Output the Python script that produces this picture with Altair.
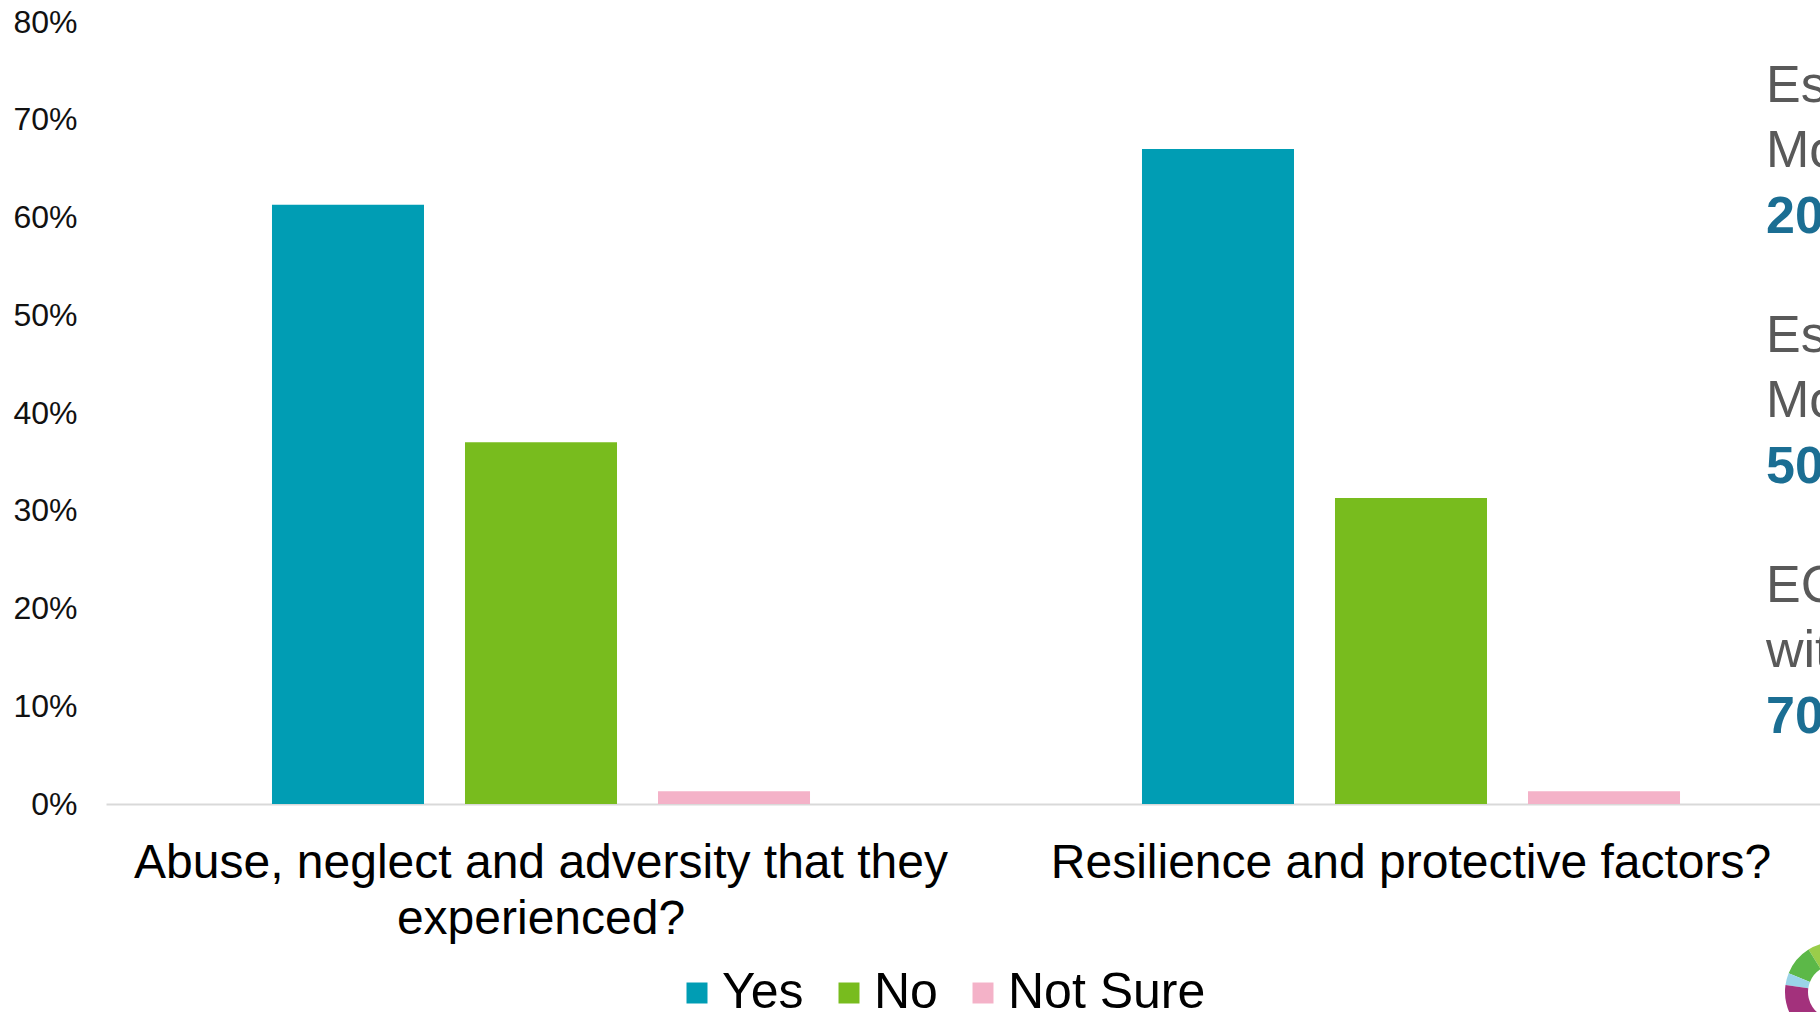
import math
import altair as alt
import pandas as pd

# ---- data ----
categories = ["Abuse, neglect and adversity that they\nexperienced?", "Resilience and protective factors?"]
responses = ["Yes", "No", "Not Sure"]
yes_vals = [0.613, 0.670]
no_vals = [0.370, 0.313]
notsure_vals = [0.013, 0.013]
colors = ["#009db4", "#78bc1e", "#f4b2c8"]

side_gray = [["Es", "Mo"], ["Es", "Mo"], ["EC", "wit"]]
side_blue = ["20%", "50%", "70%"]

# small partial logo in the bottom-right corner (segments, degrees)
logo_start = [328, 292, 278, 195]
logo_end = [348, 328, 292, 278]
logo_colors = ["#9acd4a", "#5cb848", "#9ad3e8", "#a3317c"]

rows = []
for i, c in enumerate(categories):
    rows.append({"category": c, "response": "Yes", "value": yes_vals[i]})
    rows.append({"category": c, "response": "No", "value": no_vals[i]})
    rows.append({"category": c, "response": "Not Sure", "value": notsure_vals[i]})
df = pd.DataFrame(rows)

FONT = "Liberation Sans, Arial, sans-serif"

bars = alt.Chart(df).mark_bar().encode(
    x=alt.X(
        "category:N",
        sort=categories,
        scale=alt.Scale(range=[0, 1740], paddingInner=0, paddingOuter=0),
        axis=alt.Axis(
            title=None, labelAngle=0,
            labelExpr="split(datum.label, '\\n')",
            labelFontSize=48, labelLineHeight=56, labelPadding=35,
            labelLimit=0, ticks=False, tickSize=0,
            domainColor="#d9d9d9", domainWidth=2, labelColor="#000000",
            labelFont=FONT,
        ),
    ),
    xOffset=alt.XOffset("response:N", sort=responses,
                        scale=alt.Scale(paddingInner=0.2124, paddingOuter=0.86)),
    y=alt.Y(
        "value:Q",
        scale=alt.Scale(domain=[0, 0.8]),
        axis=alt.Axis(
            format=".0%", values=[0, 0.1, 0.2, 0.3, 0.4, 0.5, 0.6, 0.7, 0.8],
            title=None, grid=False, domain=False, ticks=False, tickSize=0,
            labelFontSize=32, labelPadding=29, labelColor="#111111", labelFont=FONT,
        ),
    ),
    color=alt.Color(
        "response:N", sort=responses,
        scale=alt.Scale(domain=responses, range=colors),
        legend=alt.Legend(
            title=None, orient="none", direction="horizontal",
            legendX=566, legendY=946,
            symbolType="square", symbolSize=441, symbolStrokeWidth=0,
            labelFontSize=50, labelFont=FONT, labelColor="#000000",
            labelOffset=0, columnPadding=20, padding=0, labelLimit=0,
        ),
    ),
)

layers = [bars]
# right side annotation text (cut off at the edge)
gray_baselines = [[102, 167], [352, 417], [602, 667]]
blue_baselines = [233, 483, 733]
for b in range(3):
    for j, line in enumerate(side_gray[b]):
        layers.append(
            alt.Chart(pd.DataFrame({"t": [line]})).mark_text(
                align="left", baseline="alphabetic", fontSize=52, font=FONT,
                color="#595959",
            ).encode(text="t:N", x=alt.value(1660), y=alt.value(gray_baselines[b][j] - 22))
        )
    layers.append(
        alt.Chart(pd.DataFrame({"t": [side_blue[b]]})).mark_text(
            align="left", baseline="alphabetic", fontSize=52, font=FONT,
            fontWeight="bold", color="#1b6e93",
        ).encode(text="t:N", x=alt.value(1660), y=alt.value(blue_baselines[b] - 22))
    )

logo_df = pd.DataFrame({
    "a": [math.radians(v) for v in logo_start],
    "b": [math.radians(v) for v in logo_end],
    "c": logo_colors,
})
logo = alt.Chart(logo_df).mark_arc(radius=50, radius2=27).encode(
    theta=alt.Theta("a:Q", scale=None),
    theta2="b:Q",
    color=alt.Color("c:N", scale=None),
    x=alt.value(1729), y=alt.value(970),
)
layers.append(logo)

chart = alt.layer(*layers).properties(
    width=1714, height=782,
    autosize=alt.AutoSizeParams(type="none"),
    padding={"left": 106, "top": 22, "right": 0, "bottom": 208},
    background="white",
).configure_view(stroke=None)

chart.save("out.html", embed_options={"renderer": "svg", "actions": False})
